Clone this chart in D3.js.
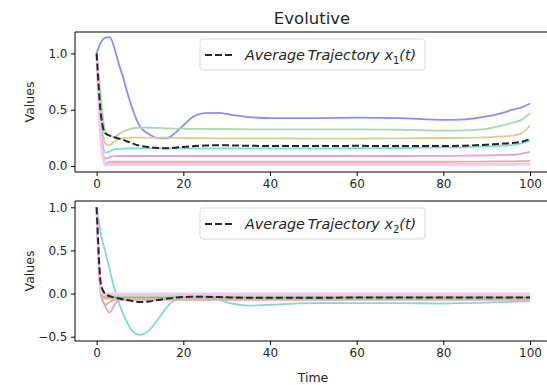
<!DOCTYPE html>
<html>
<head>
<meta charset="utf-8">
<script src="https://cdn.jsdelivr.net/npm/d3@7"></script>
<style>
  body { margin: 0; background: white; overflow: hidden; }
  text { font-family: "DejaVu Sans", sans-serif; }
</style>
</head>
<body>
<div id="canvas"></div>
<script>
// sample times (shared by every trajectory)
const times = [0, 1, 2, 3, 4, 5, 6, 7, 8, 9, 10, 12, 14, 16, 18, 20, 22, 25, 28, 31, 35, 40, 50, 60, 70, 80, 85, 90, 93, 96, 98, 100];

// x1(t) trajectories
const x1Blue  = [1.0, 1.10, 1.14, 1.145, 1.06, 0.92, 0.80, 0.66, 0.54, 0.43, 0.35, 0.285, 0.25, 0.245, 0.29, 0.36, 0.43, 0.47, 0.472, 0.455, 0.435, 0.425, 0.425, 0.43, 0.425, 0.41, 0.415, 0.44, 0.465, 0.50, 0.52, 0.555];
const x1Green = [1.0, 0.60, 0.30, 0.27, 0.258, 0.28, 0.305, 0.32, 0.333, 0.338, 0.34, 0.34, 0.338, 0.335, 0.333, 0.332, 0.33, 0.33, 0.328, 0.327, 0.326, 0.326, 0.326, 0.326, 0.322, 0.314, 0.317, 0.33, 0.355, 0.385, 0.41, 0.47];
const x1Olive = [1.0, 0.45, 0.20, 0.185, 0.215, 0.24, 0.248, 0.25, 0.252, 0.252, 0.252, 0.252, 0.252, 0.251, 0.25, 0.249, 0.248, 0.247, 0.246, 0.246, 0.245, 0.245, 0.244, 0.244, 0.246, 0.249, 0.25, 0.255, 0.262, 0.27, 0.29, 0.36];
const x1Teal  = [1.0, 0.35, 0.12, 0.13, 0.148, 0.153, 0.155, 0.156, 0.157, 0.157, 0.157, 0.157, 0.157, 0.157, 0.157, 0.157, 0.157, 0.157, 0.157, 0.157, 0.157, 0.157, 0.157, 0.158, 0.16, 0.165, 0.168, 0.175, 0.18, 0.185, 0.20, 0.228];
const x1Pink  = [1.0, 0.30, 0.065, 0.08, 0.088, 0.089, 0.089, 0.089, 0.089, 0.089, 0.089, 0.089, 0.089, 0.089, 0.089, 0.089, 0.089, 0.089, 0.089, 0.089, 0.089, 0.089, 0.089, 0.089, 0.089, 0.09, 0.092, 0.095, 0.097, 0.10, 0.11, 0.125];
const x1Red   = [1.0, 0.25, 0.027, 0.036, 0.038, 0.038, 0.038, 0.038, 0.038, 0.038, 0.038, 0.038, 0.038, 0.038, 0.038, 0.038, 0.038, 0.038, 0.038, 0.038, 0.038, 0.038, 0.038, 0.038, 0.038, 0.038, 0.039, 0.04, 0.041, 0.042, 0.043, 0.046];
const x1Light = [1.0, 0.22, 0.010, 0.013, 0.015, 0.015, 0.015, 0.015, 0.015, 0.015, 0.015, 0.015, 0.015, 0.015, 0.015, 0.015, 0.015, 0.015, 0.015, 0.015, 0.015, 0.015, 0.015, 0.015, 0.015, 0.015, 0.015, 0.015, 0.016, 0.016, 0.017, 0.018];
const x1Avg   = [1.0, 0.45, 0.29, 0.27, 0.255, 0.245, 0.235, 0.218, 0.205, 0.19, 0.18, 0.168, 0.16, 0.157, 0.163, 0.17, 0.176, 0.182, 0.185, 0.183, 0.18, 0.178, 0.178, 0.179, 0.178, 0.177, 0.181, 0.19, 0.197, 0.205, 0.215, 0.24];

// x2(t) trajectories
const x2Blue  = [1.0, 0.05, -0.04, -0.05, -0.05, -0.05, -0.05, -0.05, -0.05, -0.05, -0.05, -0.05, -0.05, -0.05, -0.05, -0.05, -0.05, -0.05, -0.05, -0.05, -0.05, -0.05, -0.05, -0.05, -0.05, -0.05, -0.05, -0.05, -0.05, -0.05, -0.05, -0.05];
const x2Green = [1.0, 0.0, -0.03, -0.03, -0.03, -0.03, -0.03, -0.03, -0.03, -0.03, -0.03, -0.03, -0.03, -0.03, -0.03, -0.03, -0.03, -0.03, -0.03, -0.03, -0.03, -0.03, -0.03, -0.03, -0.03, -0.03, -0.03, -0.03, -0.03, -0.03, -0.03, -0.03];
const x2Olive = [1.0, -0.02, -0.06, -0.06, -0.06, -0.06, -0.06, -0.06, -0.06, -0.06, -0.06, -0.06, -0.06, -0.06, -0.06, -0.06, -0.06, -0.06, -0.06, -0.06, -0.06, -0.06, -0.06, -0.06, -0.06, -0.06, -0.06, -0.06, -0.06, -0.06, -0.06, -0.06];
const x2Teal  = [1.0, 0.68, 0.48, 0.28, 0.07, -0.09, -0.22, -0.33, -0.42, -0.465, -0.48, -0.43, -0.31, -0.17, -0.075, -0.04, -0.035, -0.04, -0.07, -0.115, -0.14, -0.13, -0.11, -0.11, -0.11, -0.115, -0.11, -0.105, -0.10, -0.095, -0.09, -0.09];
const x2Pink  = [1.0, 0.0, -0.15, -0.22, -0.14, -0.08, -0.07, -0.07, -0.07, -0.07, -0.07, -0.07, -0.07, -0.07, -0.07, -0.07, -0.07, -0.07, -0.07, -0.07, -0.07, -0.07, -0.07, -0.07, -0.07, -0.07, -0.07, -0.07, -0.07, -0.07, -0.07, -0.07];
const x2Red   = [1.0, -0.02, -0.125, -0.10, -0.07, -0.07, -0.07, -0.07, -0.07, -0.07, -0.07, -0.07, -0.07, -0.07, -0.07, -0.07, -0.07, -0.07, -0.07, -0.07, -0.07, -0.07, -0.07, -0.07, -0.07, -0.07, -0.07, -0.07, -0.07, -0.07, -0.07, -0.07];
const x2Light = [1.0, 0.02, -0.01, -0.005, -0.005, -0.005, -0.005, -0.005, -0.005, -0.005, -0.005, -0.005, -0.005, -0.005, -0.005, -0.005, -0.005, -0.005, -0.005, -0.005, -0.005, -0.005, -0.005, -0.005, -0.005, -0.005, -0.005, -0.005, -0.005, -0.005, -0.005, -0.005];
const x2Avg   = [1.0, 0.10, -0.005, -0.03, -0.045, -0.055, -0.065, -0.075, -0.085, -0.093, -0.097, -0.093, -0.075, -0.06, -0.048, -0.04, -0.037, -0.038, -0.04, -0.045, -0.05, -0.05, -0.048, -0.047, -0.047, -0.046, -0.046, -0.045, -0.045, -0.045, -0.045, -0.045];

const xTicks = [0, 20, 40, 60, 80, 100];
const y1Ticks = [0.0, 0.5, 1.0];
const y2Ticks = [-0.5, 0.0, 0.5, 1.0];

const colors = ["#8c8cff", "#a8d8b0", "#d6d08c", "#7fdccc", "#dca6dc", "#e8a8a8", "#f6c6f0"];

const W = 547, H = 385;
const svg = d3.select("#canvas").append("svg")
    .attr("width", W)
    .attr("height", H)
    .style("display", "block");

const left = 75, right = 551.7;
const xScale = d3.scaleLinear().domain([-5, 105]).range([left, right]);

const panels = [
  { series: [x1Blue, x1Green, x1Olive, x1Teal, x1Pink, x1Red, x1Light], avg: x1Avg,
    domain: [-0.053, 1.19], top: 32, bottom: 172, ticks: y1Ticks, sub: "1" },
  { series: [x2Blue, x2Green, x2Olive, x2Teal, x2Pink, x2Red, x2Light], avg: x2Avg,
    domain: [-0.55, 1.073], top: 201, bottom: 341, ticks: y2Ticks, sub: "2" }
];

const fmt = d => d3.format(".1f")(d).replace("-", "\u2212");

panels.forEach(p => {
  const yScale = d3.scaleLinear().domain(p.domain).range([p.bottom, p.top]);
  const g = svg.append("g");

  const line = d3.line()
    .x((d, i) => xScale(times[i]))
    .y(d => yScale(d))
    .curve(d3.curveMonotoneX);

  // individual trajectories
  p.series.forEach((s, i) => {
    g.append("path")
      .datum(s)
      .attr("d", line)
      .attr("fill", "none")
      .attr("stroke", colors[i])
      .attr("stroke-width", i == 6 ? 2.8 : 1.8);
  });

  // average trajectory
  g.append("path")
    .datum(p.avg)
    .attr("d", line)
    .attr("fill", "none")
    .attr("stroke", "#262626")
    .attr("stroke-width", 2)
    .attr("stroke-dasharray", "7,3");

  // axes
  const xAx = g.append("g")
    .attr("transform", `translate(0, ${p.bottom})`)
    .call(d3.axisBottom(xScale).tickValues(xTicks).tickSize(4).tickPadding(3.5));
  const yAx = g.append("g")
    .attr("transform", `translate(${left}, 0)`)
    .call(d3.axisLeft(yScale).tickValues(p.ticks).tickFormat(fmt).tickSize(4).tickPadding(3.5));
  [xAx, yAx].forEach(a => {
    a.selectAll(".domain").remove();
    a.selectAll("line").attr("stroke", "black").attr("stroke-width", 1);
    a.selectAll("text").style("font-size", "12px").attr("fill", "#262626")
      .style("font-family", "DejaVu Sans");
  });

  // spines (the right one falls outside the picture, so stop at the edge)
  [[left, p.top, W, p.top], [left, p.bottom, W, p.bottom], [left, p.top, left, p.bottom]]
    .forEach(s => {
      g.append("line")
        .attr("x1", s[0]).attr("y1", s[1]).attr("x2", s[2]).attr("y2", s[3])
        .attr("stroke", "black").attr("stroke-width", 1);
    });

  // y label
  g.append("text")
    .attr("transform", `translate(34, ${(p.top + p.bottom) / 2}) rotate(-90)`)
    .attr("text-anchor", "middle")
    .style("font-size", "12.5px")
    .attr("fill", "#262626")
    .text("Values");

  // legend
  const ly = p.top + 7;
  const lg = g.append("g");
  lg.append("rect")
    .attr("x", 200).attr("y", ly)
    .attr("width", 225).attr("height", 31)
    .attr("rx", 3)
    .attr("fill", "white").attr("fill-opacity", 0.8)
    .attr("stroke", "#d6d6d6").attr("stroke-width", 0.9);
  lg.append("line")
    .attr("x1", 205).attr("x2", 235)
    .attr("y1", ly + 16).attr("y2", ly + 16)
    .attr("stroke", "#262626").attr("stroke-width", 2)
    .attr("stroke-dasharray", "7,3");
  const lt = lg.append("text")
    .attr("x", 245).attr("y", ly + 21)
    .style("font-size", "14.4px")
    .style("font-style", "italic")
    .attr("fill", "#262626");
  lt.append("tspan").text("Average\u2009Trajectory ");
  lt.append("tspan").text("x");
  lt.append("tspan").attr("dy", 3.5).style("font-size", "10px").style("font-style", "normal").text(p.sub);
  lt.append("tspan").attr("dy", -3.5).text("(t)");
});

// title and x label
svg.append("text")
  .attr("x", 312).attr("y", 24)
  .attr("text-anchor", "middle")
  .style("font-size", "16.5px")
  .attr("fill", "#262626")
  .text("Evolutive");

svg.append("text")
  .attr("x", 313).attr("y", 382)
  .attr("text-anchor", "middle")
  .style("font-size", "12.5px")
  .attr("fill", "#262626")
  .text("Time");
</script>
</body>
</html>
